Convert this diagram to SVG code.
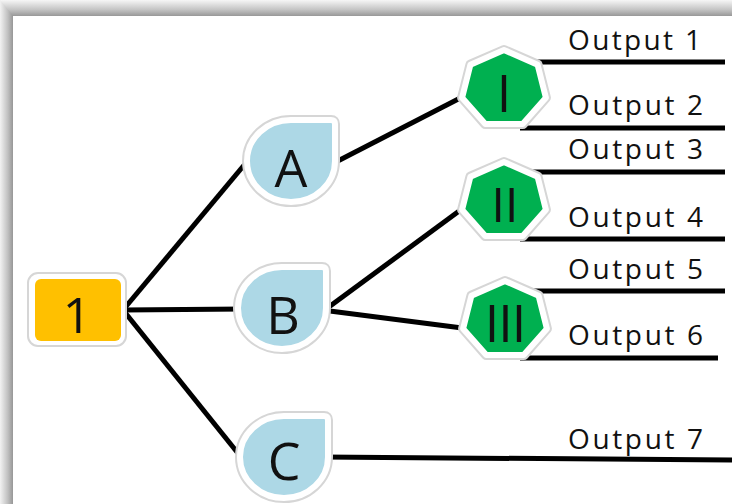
<svg xmlns="http://www.w3.org/2000/svg" width="732" height="504" viewBox="0 0 732 504">
<defs>
<linearGradient id="gTop" x1="0" y1="0" x2="0" y2="1">
<stop offset="0" stop-color="#f6f6f6"/>
<stop offset="0.6" stop-color="#c4c4c4"/>
<stop offset="1" stop-color="#989898"/>
</linearGradient>
<linearGradient id="gLeft" x1="0" y1="0" x2="1" y2="0">
<stop offset="0" stop-color="#f2f2f2"/>
<stop offset="0.6" stop-color="#c0c0c0"/>
<stop offset="1" stop-color="#979797"/>
</linearGradient>
<path id="drop" d="M -44,0 A 44 41 0 0 1 0,-41 L 40,-41 Q 44,-41 44,-37 L 44,0 A 44 41 0 0 1 0,41 A 44 41 0 0 1 -44,0 Z"/>
<polygon id="hept" points="0,-39 33.6,-24.3 41.9,8.7 18.7,35.1 -18.7,35.1 -41.9,8.7 -33.6,-24.3"/>
</defs>
<style>
.halo{fill:none;stroke:#d6d6d6;stroke-width:10;stroke-linejoin:round}
.rim{stroke:#ffffff;stroke-width:6;stroke-linejoin:round}
.blue{fill:#add8e6}
.green{fill:#00b050}
.lbl{font-family:"Open Sans","Liberation Sans",sans-serif;fill:#111;text-anchor:middle}
.out{font-family:"Open Sans","Liberation Sans",sans-serif;font-size:28px;fill:#111}
#connectors line{stroke:#000;stroke-width:5;fill:none;stroke-linecap:butt}
</style>
<rect x="0" y="0" width="732" height="504" fill="#ffffff"/>
<rect x="0" y="0" width="732" height="16" fill="url(#gTop)"/>
<polygon points="0,0 13,16 13,504 0,504" fill="url(#gLeft)"/>
<g id="connectors">
<line x1="123" y1="310" x2="250" y2="158"/>
<line x1="123" y1="310" x2="245" y2="309"/>
<line x1="123" y1="310" x2="245" y2="462"/>
<line x1="330" y1="165" x2="470" y2="93"/>
<line x1="322" y1="312" x2="470" y2="203"/>
<line x1="322" y1="310" x2="470" y2="329"/>
<line x1="322" y1="457" x2="732" y2="460"/>
<line x1="530" y1="62" x2="725" y2="62"/>
<line x1="520" y1="128" x2="725" y2="128"/>
<line x1="530" y1="172" x2="725" y2="172"/>
<line x1="520" y1="239" x2="725" y2="239"/>
<line x1="530" y1="291" x2="725" y2="291"/>
<line x1="520" y1="358" x2="718" y2="358"/>
</g>
<g id="node-1">
<rect x="28" y="273" width="98" height="73" rx="10" fill="#ffffff" stroke="#d6d6d6" stroke-width="2"/>
<rect x="35" y="279" width="86" height="62" rx="6" fill="#ffc000"/>
<text class="lbl" x="77" y="333" font-size="50">1</text>
</g>
<g id="node-A" transform="translate(291,161)">
<use href="#drop" class="halo"/>
<use href="#drop" class="blue rim"/>
<text class="lbl" x="0" y="26" font-size="52">A</text>
</g>
<g id="node-B" transform="translate(282,308)">
<use href="#drop" class="halo"/>
<use href="#drop" class="blue rim"/>
<text class="lbl" x="1" y="26" font-size="52">B</text>
</g>
<g id="node-C" transform="translate(284,457)">
<use href="#drop" class="halo"/>
<use href="#drop" class="blue rim"/>
<text class="lbl" x="0" y="23" font-size="52">C</text>
</g>
<g id="node-I" transform="translate(504,89)">
<use href="#hept" class="halo"/>
<use href="#hept" class="green rim"/>
<text class="lbl" x="0" y="23" font-size="52">I</text>
</g>
<g id="node-II" transform="translate(504,201)">
<use href="#hept" class="halo"/>
<use href="#hept" class="green rim"/>
<text class="lbl" x="1" y="21" font-size="48">II</text>
</g>
<g id="node-III" transform="translate(505,320)">
<use href="#hept" class="halo"/>
<use href="#hept" class="green rim"/>
<text class="lbl" x="0" y="22" font-size="52" letter-spacing="-1">III</text>
</g>
<g id="labels">
<text class="out" x="568" y="50" textLength="133" lengthAdjust="spacing">Output 1</text>
<text class="out" x="568" y="115" textLength="135" lengthAdjust="spacing">Output 2</text>
<text class="out" x="568" y="159" textLength="135" lengthAdjust="spacing">Output 3</text>
<text class="out" x="568" y="227" textLength="135" lengthAdjust="spacing">Output 4</text>
<text class="out" x="568" y="279" textLength="135" lengthAdjust="spacing">Output 5</text>
<text class="out" x="568" y="345" textLength="135" lengthAdjust="spacing">Output 6</text>
<text class="out" x="568" y="449" textLength="135" lengthAdjust="spacing">Output 7</text>
</g>
</svg>
